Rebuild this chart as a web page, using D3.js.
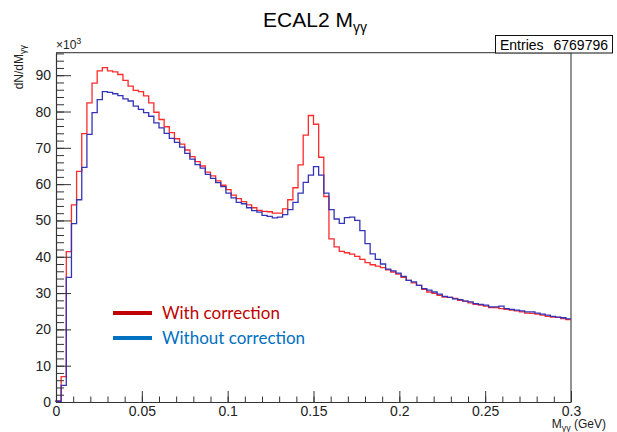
<!DOCTYPE html>
<html>
<head>
    <meta charset="utf-8">
    <title>ECAL2 Mgg</title>
    <script src="https://d3js.org/d3.v7.min.js"></script>
    <style>
        body { margin: 0; background: #fff; }
        svg text { font-family: "Liberation Sans", Arial, sans-serif; }
    </style>
</head>
<body>
<div id="chart"></div>
<script>
    // bin contents in units of 10^3, 100 bins of 0.003 GeV from 0 to 0.3
    var withCorr = [
        0.3, 7.0, 41.4, 54.3, 63.5, 73.9, 82.4, 87.8, 91.2, 92.1,
        91.2, 90.9, 90.2, 88.6, 87.0, 85.8, 85.5, 84.3, 82.4, 79.8,
        77.8, 75.8, 74.2, 72.5, 71.0, 69.4, 67.6, 66.2, 65.0, 63.3,
        62.3, 60.9, 59.7, 58.5, 57.0, 56.0, 55.2, 54.3, 53.5, 52.8,
        52.5, 52.4, 52.0, 52.0, 53.2, 55.7, 59.0, 65.3, 73.5, 78.9,
        76.5, 67.4, 56.6, 44.9, 42.7, 41.5, 41.1, 40.7, 40.1, 39.3,
        38.4, 37.8, 37.4, 37.0, 36.4, 35.8, 35.2, 34.3, 33.5, 32.8,
        32.1, 31.0, 30.3, 29.9, 29.4, 28.9, 28.8, 28.5, 28.0, 27.8,
        27.3, 26.9, 26.7, 26.4, 26.0, 26.0, 25.7, 25.5, 25.3, 25.1,
        24.8, 24.5, 24.4, 24.2, 23.9, 23.6, 23.4, 23.3, 23.0, 22.7
    ];
    var withoutCorr = [
        0.2, 4.6, 34.3, 49.1, 55.7, 64.6, 73.7, 79.7, 83.3, 85.5,
        85.3, 84.9, 84.4, 83.5, 82.9, 81.5, 80.6, 79.7, 78.7, 76.9,
        75.5, 74.0, 72.6, 71.5, 70.2, 68.5, 66.9, 65.4, 64.4, 62.7,
        61.6, 60.4, 59.3, 57.5, 56.2, 55.0, 54.6, 53.5, 52.7, 52.3,
        51.4, 51.1, 50.7, 50.9, 51.6, 53.0, 55.0, 57.5, 60.5, 62.5,
        64.8, 62.5, 57.5, 53.0, 50.4, 49.2, 50.8, 50.9, 50.0, 47.2,
        43.6, 40.8, 39.3, 38.0, 36.6, 36.1, 35.5, 34.6, 33.5, 33.1,
        32.1, 31.2, 30.8, 30.3, 29.7, 29.1, 28.8, 28.4, 28.2, 27.8,
        27.6, 27.1, 26.9, 26.7, 26.2, 26.2, 26.4, 25.7, 25.5, 25.3,
        25.1, 24.8, 24.8, 24.5, 24.2, 23.9, 23.6, 23.4, 23.2, 22.9
    ];
    var binLow = 0, binWidth = 0.003;

    var xTicks = [0, 0.05, 0.1, 0.15, 0.2, 0.25, 0.3];
    var xTickLabels = ["0", "0.05", "0.1", "0.15", "0.2", "0.25", "0.3"];
    var yTicks = [0, 10, 20, 30, 40, 50, 60, 70, 80, 90];
    var yMax = 96.2;
    var entries = "6769796";

    var legendLabels = ["With correction", "Without correction"];
    var legendColors = ["#c00000", "#0070c0"];
    var lineColors = ["#ff2b2b", "#3434b8"];

    var W = 617, H = 432;
    var svg = d3.select("#chart").append("svg")
        .attr("width", W)
        .attr("height", H);

    // scales
    var x = d3.scaleLinear().domain([0, 0.3]).range([56, 571]);
    var y = d3.scaleLinear().domain([0, yMax]).range([402, 52.7]);

    // frame top and right
    svg.append("line")
        .attr("x1", x(0)).attr("x2", x(0.3))
        .attr("y1", y(yMax)).attr("y2", y(yMax))
        .attr("stroke", "#555").attr("stroke-width", 1.2);
    svg.append("line")
        .attr("x1", x(0.3)).attr("x2", x(0.3))
        .attr("y1", y(0)).attr("y2", y(yMax))
        .attr("stroke", "#777").attr("stroke-width", 1.6);

    // histograms
    function steps(vals) {
        var p = vals.map(function(v, i) { return [binLow + i * binWidth, v]; });
        p.unshift([binLow, 0]);
        p.push([binLow + vals.length * binWidth, vals[vals.length - 1]]);
        return p;
    }
    var line = d3.line()
        .x(function(d) { return x(d[0]); })
        .y(function(d) { return y(d[1]); })
        .curve(d3.curveStepAfter);

    svg.selectAll(".hist")
        .data([withCorr, withoutCorr])
        .enter()
        .append("path")
        .attr("class", "hist")
        .attr("d", function(d) { return line(steps(d)); })
        .attr("fill", "none")
        .attr("stroke", function(d, i) { return lineColors[i]; })
        .attr("stroke-width", 1.3);

    // x axis: major and minor ticks pointing up
    svg.append("g")
        .attr("transform", "translate(0," + y(0) + ")")
        .call(d3.axisBottom(x).tickValues(xTicks)
            .tickFormat(function(d, i) { return xTickLabels[i]; })
            .tickSizeInner(-11).tickSizeOuter(0).tickPadding(4));
    svg.append("g")
        .attr("transform", "translate(0," + y(0) + ")")
        .call(d3.axisBottom(x).ticks(30).tickFormat("").tickSizeInner(-5.5).tickSizeOuter(0))
        .select(".domain").remove();

    // y axis: ticks pointing right
    svg.append("g")
        .attr("transform", "translate(" + x(0) + ",0)")
        .call(d3.axisLeft(y).tickValues(yTicks)
            .tickSizeInner(-15).tickSizeOuter(0).tickPadding(5));
    svg.append("g")
        .attr("transform", "translate(" + x(0) + ",0)")
        .call(d3.axisLeft(y).tickValues(d3.range(0, yMax, 2)).tickFormat("").tickSizeInner(-8).tickSizeOuter(0))
        .select(".domain").remove();

    svg.selectAll(".domain").attr("stroke", "#333").attr("stroke-width", 1.2);
    svg.selectAll(".tick line").attr("stroke", "#333");
    svg.selectAll(".tick text")
        .attr("fill", "#222")
        .style("font-size", "14px")
        .style("font-family", "'Liberation Sans', Arial, sans-serif");

    // title
    var title = svg.append("text")
        .attr("x", 315).attr("y", 27)
        .attr("text-anchor", "middle")
        .style("font-size", "21px");
    title.append("tspan").text("ECAL2 M");
    title.append("tspan").attr("dy", 5).style("font-size", "14px").text("γγ");

    // exponent
    var ex = svg.append("text").attr("x", 56).attr("y", 49).style("font-size", "12px").attr("fill", "#222");
    ex.append("tspan").text("×10");
    ex.append("tspan").attr("dy", -5).style("font-size", "9px").text("3");

    // y title
    var yt = svg.append("text")
        .attr("transform", "translate(23,45) rotate(-90)")
        .attr("text-anchor", "end")
        .style("font-size", "12px")
        .attr("fill", "#222");
    yt.append("tspan").text("dN/dM");
    yt.append("tspan").attr("dy", 3).style("font-size", "9px").text("γγ");

    // x title
    var xt = svg.append("text")
        .attr("x", 606).attr("y", 428)
        .attr("text-anchor", "end")
        .style("font-size", "12px")
        .attr("fill", "#222");
    xt.append("tspan").text("M");
    xt.append("tspan").attr("dy", 3).style("font-size", "9px").text("γγ");
    xt.append("tspan").attr("dy", -3).text(" (GeV)");

    // stats box
    svg.append("rect")
        .attr("x", 495.5).attr("y", 35.5).attr("width", 117).attr("height", 17.5)
        .attr("fill", "#fff").attr("stroke", "#111");
    svg.append("text").attr("x", 500).attr("y", 50).style("font-size", "14px").text("Entries");
    svg.append("text").attr("x", 608).attr("y", 50).attr("text-anchor", "end").style("font-size", "14px").text(entries);

    // legend
    var leg = svg.selectAll(".leg")
        .data(legendLabels)
        .enter()
        .append("g")
        .attr("class", "leg")
        .attr("transform", function(d, i) { return "translate(113," + (313 + i * 25) + ")"; });
    leg.append("line")
        .attr("x1", 0).attr("x2", 39)
        .attr("stroke", function(d, i) { return legendColors[i]; })
        .attr("stroke-width", 4);
    leg.append("text")
        .attr("x", 49).attr("dy", "0.35em")
        .style("font-family", "Lato, 'Open Sans', sans-serif")
        .style("font-size", "17px")
        .attr("fill", function(d, i) { return legendColors[i]; })
        .text(function(d) { return d; });
</script>
</body>
</html>
